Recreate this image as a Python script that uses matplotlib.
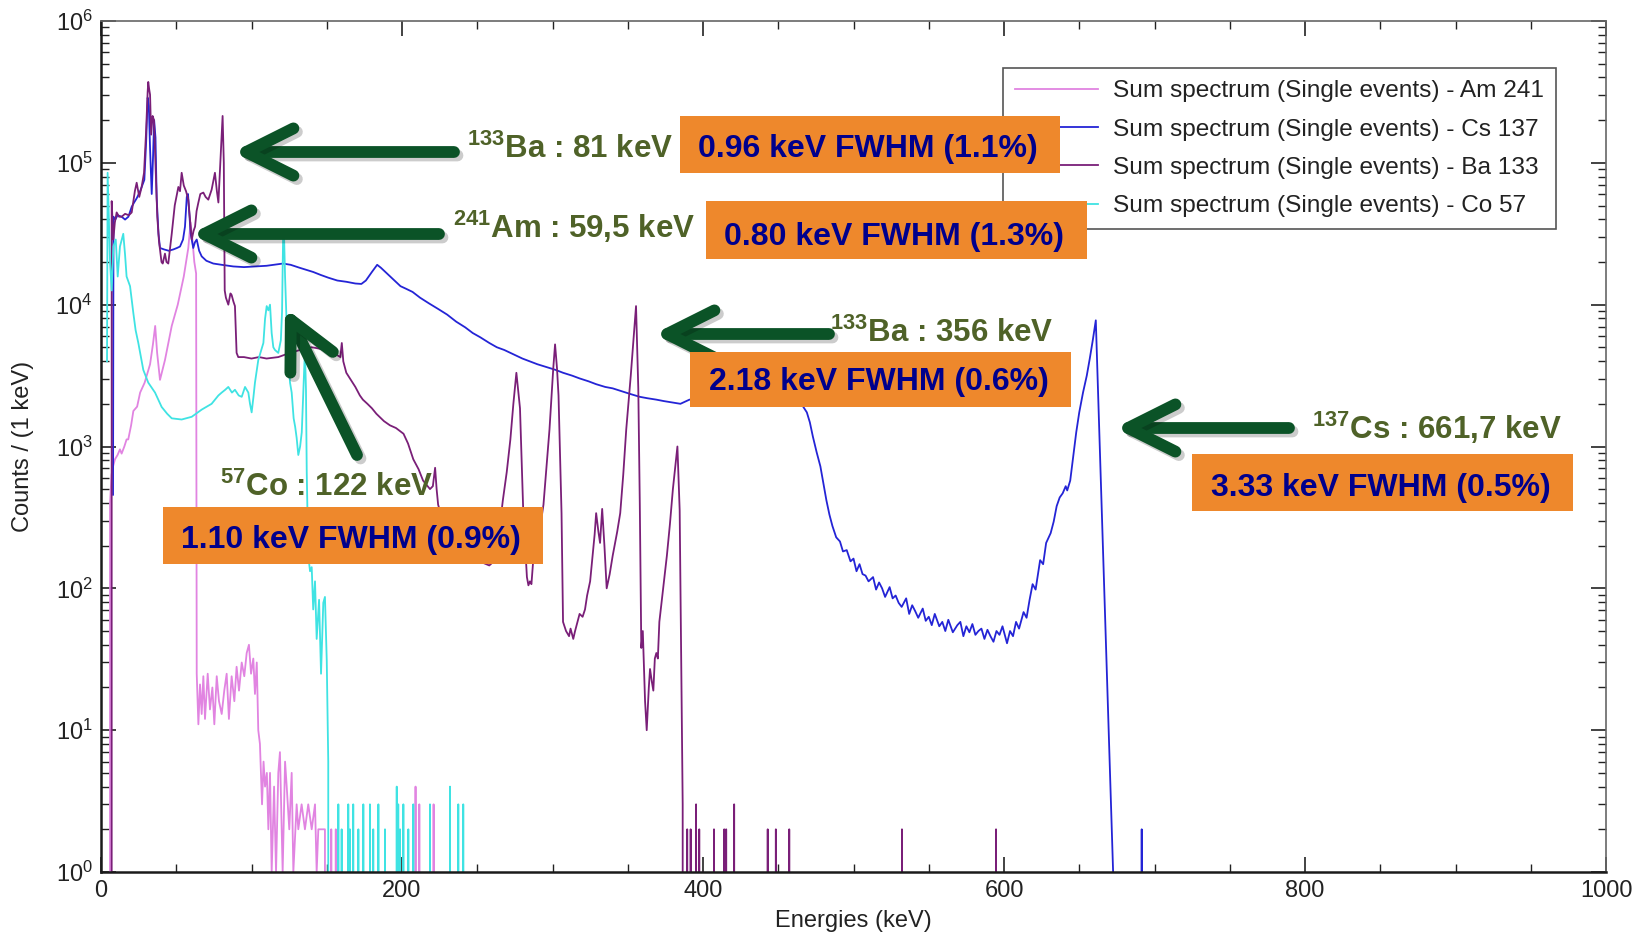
import numpy as np
import matplotlib
matplotlib.use('Agg')
import matplotlib.pyplot as plt
import matplotlib.ticker as tkr
import matplotlib.patheffects as pe
from matplotlib.patches import Rectangle
from matplotlib import font_manager

# spectra: energy (keV) and counts per keV
am241_energy = [5.0, 6.0, 7.0, 8.0, 9.3, 11.0, 12.6, 13.7, 15.5, 17.0, 18.1, 20.0, 21.5, 24.0, 26.0,
                29.0, 32.6, 34.5, 36.0, 37.3, 39.2, 42.5, 47.0, 51.0, 55.0, 58.0, 59.5, 60.8, 62.0,
                63.2, 63.6, 64.7, 65.8, 66.9, 68.0, 69.1, 70.9, 72.4, 74.0, 75.3, 76.9, 78.4, 80.2,
                81.9, 83.5, 85.0, 86.8, 88.6, 90.1, 91.7, 93.5, 95.2, 96.8, 98.3, 99.7, 101.2, 102.3,
                103.5, 104.5, 105.6, 107.0, 108.0, 109.0, 110.2, 111.2, 112.3, 113.4, 115.0, 116.3,
                117.8, 118.9, 120.7, 122.3, 123.4, 125.1, 126.7, 127.8, 130.0, 131.1, 133.3, 135.5,
                137.7, 140.0, 142.2, 143.3, 144.4, 146.6, 148.8, 150.0]
am241_counts = [0, 398, 631, 724, 813, 871, 955, 891, 1000, 1122, 1122, 1410, 1780, 1910, 2400,
                2820, 3800, 5250, 7080, 4570, 2950, 4070, 7080, 10000, 15800, 25100, 38000, 28200, 20000,
                16600, 25, 11, 21, 13, 24, 12, 25, 14, 20, 11, 24, 16, 13,
                19, 25, 12, 24, 16, 28, 19, 30, 24, 35, 40, 25, 32, 18,
                30, 10, 8, 3, 6, 4, 5, 2, 5, 1, 4, 1,
                5, 7, 1, 6, 4, 2, 5, 1, 3, 2, 3, 2,
                3, 2, 3, 1, 2, 2, 2, 0]
am241_spikes = [(153, 2), (156, 2), (160, 1), (209, 4), (211.5, 3), (221, 3)]

cs137_energy = [8.0, 8.3, 9.5, 11.0, 13.7, 16.0, 18.2, 20.4, 22.0, 23.7, 26.0, 28.8, 30.0, 31.0, 31.8,
                32.6, 33.7, 34.6, 35.3, 36.2, 37.0, 38.2, 39.2, 42, 45, 48, 50.5, 52.5, 54.5, 55.8,
                57.0, 57.8, 58.8, 59.6, 61.3, 62.4, 63.6, 65.2, 66.9, 70, 74.6, 80.2, 87.9, 95, 102,
                110, 115, 121, 126, 132, 141, 146, 151, 157, 163, 169, 173, 176, 180, 183.5, 186, 190,
                195, 199, 203, 207, 212, 218, 224, 230, 236, 242, 247, 252, 258, 263, 268, 274, 280,
                285, 290, 296, 302, 307, 313, 318, 324, 329, 335, 340, 346, 352, 358, 363, 369, 374,
                380, 385, 391, 397, 403, 410, 418, 425, 433, 440, 448, 455, 461, 466, 469, 471, 473,
                475.5, 478, 480, 482, 484, 486, 488.5, 491, 493, 495.5, 498, 500, 502, 504, 506, 508,
                510, 513, 515, 517, 519, 521, 524, 526, 528, 530, 532, 535, 537, 539, 541, 543, 546,
                548, 550, 552, 554, 557, 559, 561, 563, 566, 569, 571, 573, 575, 577, 579, 581, 583,
                585, 587, 589, 591, 593, 595, 597, 599, 602, 604, 606, 608, 610, 613, 615, 617, 619,
                621, 624, 626, 628, 631, 633, 635, 637, 639, 641, 642, 644, 646, 648, 650, 652.5, 655,
                657, 659, 661, 672.5, 673]
cs137_counts = [457, 41700, 39800, 42700, 41700, 39800, 41700, 49000, 52500, 56200, 63100, 75900,
                141000, 288000, 251000, 126000, 60300, 112000, 200000, 151000, 56200, 31600, 25100,
                24500, 24000, 24500, 25100, 25700, 28800, 35500, 57500, 60300, 41700, 31600, 25100,
                27500, 28800, 24000, 21900, 20400, 19500, 19100, 18600, 18400, 18600, 18800, 19100,
                19500, 19100, 18200, 17000, 16200, 15500, 14800, 14500, 14100, 14000, 14800, 17000,
                19100, 18200, 16600, 14800, 13500, 12900, 12300, 11200, 10200, 9330, 8510, 7590, 6920,
                6310, 5890, 5370, 5010, 4790, 4470, 4170, 3980, 3800, 3630, 3470, 3310, 3160, 3020,
                2880, 2750, 2630, 2570, 2450, 2340, 2240, 2190, 2140, 2090, 2040, 2000, 2140, 2140,
                2140, 2090, 2090, 2090, 2040, 2040, 2040, 2000, 2000, 1950, 1740, 1480, 1175,
                912, 724, 550, 417, 331, 275, 229, 214, 182, 186, 155, 162, 132, 148, 126, 123,
                112, 120, 98, 110, 100, 87, 102, 85, 89, 79, 74, 85, 66, 76, 69, 62, 72,
                59, 63, 55, 66, 54, 58, 50, 60, 49, 55, 58, 46, 54, 49, 56, 47, 50,
                52, 44, 51, 46, 42, 50, 47, 54, 41, 50, 46, 58, 52, 68, 62, 83, 107,
                98, 158, 148, 209, 245, 295, 380, 437, 468, 525, 490, 575, 850, 1260, 1740, 2400, 3160,
                4170, 5620, 7760, 1, 0]
cs137_spikes = [(691.5, 2)]

ba133_energy = [6.8, 7.1, 8.2, 9.2, 10.4, 12.0, 13.7, 16.0, 18.5, 20.4, 22.5, 23.7, 25.4, 27.0, 28.6,
                29.9, 31.0, 31.4, 32.0, 32.6, 33.3, 34.3, 35.2, 36.0, 37.4, 38.5, 39.2, 40.2, 41.0,
                42.5, 43.5, 44.7, 47.0, 49.0, 51.4, 52.5, 53.6, 55.0, 56.5, 58.0, 60.3, 61.5, 62.5,
                63.5, 64.7, 66.0, 68.0, 69.5, 71.3, 73.5, 75.7, 77.0, 78.0, 79.5, 80.8, 81.6, 82.2,
                83.0, 84.6, 86.0, 86.8, 88.0, 89.0, 90.1, 91.2, 95, 100, 105, 110, 117.8, 123, 129,
                135, 140, 145, 151, 156, 159, 160, 161, 163, 166, 169, 172, 174, 177, 180, 183, 185,
                188, 192, 196, 201, 204, 207.5, 211, 214, 218.6, 220.5, 222, 223, 224, 227, 232, 240,
                248, 254, 258, 261, 264, 267, 269.6, 272, 274, 276, 278.4, 280.6, 283, 284, 285, 286,
                287, 290, 294, 298, 300.5, 301.7, 303, 304, 306, 307, 309, 311, 312, 313.8, 315, 318,
                320, 321.6, 323, 325, 328, 329, 330.5, 331.6, 333, 334.5, 336, 338, 340, 343, 345,
                347, 349, 352, 354.5, 355.5, 357, 358, 359, 360, 361.5, 362.6, 364, 364.8, 366, 367,
                368, 369, 370, 371, 373, 376, 378, 380, 383, 384.5, 386.5, 387.5]
ba133_counts = [0, 53700, 28800, 38000, 44700, 41700, 41700, 43700, 42700, 44700, 63100, 72400, 57500,
                67600, 85100, 162000, 316000, 372000, 331000, 302000, 158000, 214000, 200000, 112000,
                41700, 28200, 24500, 20000, 19500, 22900, 20000, 19500, 31600, 50100, 67600, 63100,
                85100, 69200, 63100, 55000, 28800, 33100, 35500, 45700, 52500, 60300, 61700, 57500,
                55000, 64600, 85100, 63100, 52500, 112000, 214000, 100000, 12600, 11200, 10000, 12000,
                11700, 10500, 9770, 4570, 4270, 4270, 4170, 4270, 4170, 4270, 4470, 4680, 4900, 5010,
                4900, 4680, 4470, 4270, 5370, 3980, 3310, 2950, 2630, 2290, 2140, 2000, 1860, 1700,
                1620, 1510, 1410, 1350, 1230, 1050, 813, 692, 575, 501, 525, 708, 501, 389, 302, 251,
                200, 166, 151, 145, 155, 224, 417, 661, 1120, 2000, 3310, 1860, 339, 120, 105, 112,
                107, 148, 200, 389, 1320, 3550, 5250, 3550, 2290, 339, 58, 50, 46, 52, 44, 50, 66,
                63, 71, 89, 112, 240, 339, 251, 209, 363, 200, 100, 126, 170, 251, 339,
                631, 1320, 3160, 7080, 9770, 2570, 398, 38, 50, 16, 10, 20, 27, 22, 19,
                32, 35, 32, 58, 89, 170, 282, 501, 1000, 355, 3, 0]
ba133_spikes = [(389.5, 2), (391.8, 2), (395.4, 3), (397.5, 2), (399.8, 1), (407.3, 2), (414.1, 2),
                (415.4, 2), (420.7, 3), (443.0, 2), (448.4, 2), (457.3, 2), (532.2, 2), (594.7, 2)]

co57_energy = [4.0, 4.4, 5.0, 6.0, 7.1, 8.2, 9.8, 11.1, 12.6, 14.8, 16.0, 17.0, 19.3, 21.5, 23.0, 24.8,
               28.1, 31.4, 35.9, 40.3, 44.0, 47.0, 53.6, 60.3, 66.9, 73.5, 78.0, 80.2, 82.5, 84.6,
               87.0, 89.0, 91.5, 93.5, 95.7, 97.9, 99.0, 100.1, 101.3, 102.3, 104.5, 106.5, 107.9,
               109.0, 110.1, 111.2, 112.3, 113.4, 114.5, 115.6, 117.8, 119.5, 120.3, 121.0, 121.6,
               122.3, 123.4, 124.5, 125.6, 126.7, 128.0, 129.0, 130.0, 131.1, 132.3, 133.4, 134.4,
               135.5, 136.2, 136.7, 137.7, 138.9, 140.0, 141.0, 142.2, 143.3, 144.9, 146.2, 147.7,
               148.8, 150.0, 151.0, 151.8]
co57_counts = [3980, 85100, 50100, 20000, 12600, 25700, 28800, 15800, 25700, 31600, 22400, 15800, 13500,
               8710, 6610, 5370, 3470, 2820, 2400, 1900, 1700, 1580, 1550, 1620, 1820, 2000, 2290,
               2400, 2510, 2630, 2400, 2510, 2290, 2240, 2630, 2400, 2000, 1740, 2240, 2820, 4070,
               4790, 5370, 7940, 9770, 9120, 10000, 6310, 5010, 4790, 4570, 5620, 8910, 30200, 31600,
               15800, 7080, 4070, 2820, 2400, 1580, 1380, 1150, 871, 1000, 1260, 2400, 4790, 2510,
               661, 170, 132, 141, 71, 112, 44, 83, 25, 79, 87, 31, 6, 0]
co57_spikes = [(157.7, 3), (159.9, 2), (164.3, 3), (165.4, 2), (167.6, 3), (171.0, 2), (174.3, 3),
               (178.7, 3), (180.9, 2), (184.3, 3), (188.7, 2), (196.5, 4), (197.5, 3), (198.7, 2),
               (200.9, 3), (204.2, 2), (207.5, 3), (218.6, 3), (231.9, 4), (237.4, 3), (240.7, 3)]

series_labels = ['Sum spectrum (Single events) - Am 241', 'Sum spectrum (Single events) - Cs 137',
                 'Sum spectrum (Single events) - Ba 133', 'Sum spectrum (Single events) - Co 57']

peak_labels = [r'$^{\mathbf{133}}$Ba : 81 keV', r'$^{\mathbf{241}}$Am : 59,5 keV', r'$^{\mathbf{57}}$Co : 122 keV',
               r'$^{\mathbf{133}}$Ba : 356 keV', r'$^{\mathbf{137}}$Cs : 661,7 keV']
fwhm_labels = ['0.96 keV FWHM (1.1%)', '0.80 keV FWHM (1.3%)', '1.10 keV FWHM (0.9%)',
               '2.18 keV FWHM (0.6%)', '3.33 keV FWHM (0.5%)']

W, H = 1646, 934


def with_spikes(energy, counts, spikes):
    e, c = list(energy), list(counts)
    for se, sc in spikes:
        e += [se - 0.4, se, se + 0.4]
        c += [0, sc, 0]
    return e, c


def has_font(name):
    try:
        font_manager.findfont(font_manager.FontProperties(family=name, weight='bold'), fallback_to_default=False)
        return True
    except ValueError:
        return False


def fig_xy(x, y):
    # pixel position measured from the top-left corner -> figure fraction
    return x / W, 1 - y / H


def plot():
    narrow = has_font('Liberation Sans Narrow')
    ann_font = 'Liberation Sans Narrow' if narrow else 'Liberation Sans'
    green_size = 27 if narrow else 22.5
    box_size = 27.5 if narrow else 23

    plt.rcParams['font.family'] = ['Liberation Sans', 'DejaVu Sans']
    plt.rcParams['mathtext.fontset'] = 'custom'
    plt.rcParams['mathtext.rm'] = 'Liberation Sans'
    plt.rcParams['mathtext.bf'] = ann_font + ':bold'

    fig = plt.figure(figsize=(W / 100, H / 100), dpi=100)
    ax = fig.add_axes([101 / W, 62 / H, 1505 / W, 851 / H])

    colors = ['#e184e1', '#2424d6', '#7a1f78', '#3fe3e3']
    spectra = [(am241_energy, am241_counts, am241_spikes), (cs137_energy, cs137_counts, cs137_spikes),
               (ba133_energy, ba133_counts, ba133_spikes), (co57_energy, co57_counts, co57_spikes)]
    for (e, c, sp), col, lab in zip(spectra, colors, series_labels):
        x, y = with_spikes(e, c, sp)
        ax.plot(x, y, color=col, lw=1.3, label=lab)

    ax.set_yscale('log')
    ax.set_xlim(0, 1000)
    ax.set_ylim(1, 1e6)
    ax.xaxis.set_major_locator(tkr.MultipleLocator(200))
    ax.xaxis.set_minor_locator(tkr.MultipleLocator(50))
    ax.yaxis.set_major_locator(tkr.FixedLocator([1, 10, 100, 1e3, 1e4, 1e5, 1e6]))
    ax.yaxis.set_minor_locator(tkr.LogLocator(base=10, subs=range(2, 10), numticks=20))
    ax.yaxis.set_major_formatter(tkr.FuncFormatter(lambda v, pos: r'$\mathregular{10^{%d}}$' % round(np.log10(v))))
    ax.yaxis.set_minor_formatter(tkr.NullFormatter())
    ax.xaxis.set_major_formatter(tkr.FuncFormatter(lambda v, pos: '%d' % v))

    ax.tick_params(which='both', direction='in', top=True, right=True, colors='#222222')
    ax.tick_params(which='major', length=11, width=1.2, labelsize=17)
    ax.tick_params(axis='x', which='major', pad=6)
    ax.tick_params(axis='y', which='major', pad=6)
    ax.tick_params(which='minor', length=6, width=1.0)
    for s in ['left', 'bottom']:
        ax.spines[s].set_color('#1a1a1a')
        ax.spines[s].set_linewidth(1.8)
    for s in ['top', 'right']:
        ax.spines[s].set_color('#666666')
        ax.spines[s].set_linewidth(1.2)

    ax.set_xlabel('Energies (keV)', fontsize=17, color='#222222', va='center')
    ax.xaxis.set_label_coords(0.5, -0.0576)
    ax.set_ylabel('Counts / (1 keV)', fontsize=17, color='#222222', va='center')
    ax.yaxis.set_label_coords(-0.052, 0.5)

    leg = ax.legend(loc='upper left', bbox_to_anchor=fig_xy(1003, 68), bbox_transform=fig.transFigure,
                    borderaxespad=0, fontsize=17.6, handlelength=3.4, handletextpad=0.58,
                    labelspacing=0.66, borderpad=0.5, fancybox=False, framealpha=1, edgecolor='#555555')
    leg.get_frame().set_linewidth(1.2)
    for t in leg.get_texts():
        t.set_color('#222222')

    # arrows: tip, tail in pixels from the top-left corner
    arrows = [((233, 152), (454, 152)), ((191, 234), (439, 234)), ((285, 308), (357, 455)),
              ((654, 334), (829, 334)), ((1115, 428), (1289, 428))]
    for tip, tail in arrows:
        ax.annotate('', xy=(tip[0], H - tip[1]), xycoords='figure pixels',
                    xytext=(tail[0], H - tail[1]), textcoords='figure pixels',
                    arrowprops=dict(arrowstyle='->,head_length=34,head_width=17', mutation_scale=1,
                                    lw=8.5, color='#0b5327', shrinkA=0, shrinkB=0,
                                    capstyle='round', joinstyle='round',
                                    path_effects=[pe.SimpleLineShadow(offset=(2.5, -2.5), shadow_color='k', alpha=0.2),
                                                  pe.Normal()]),
                    annotation_clip=False)

    label_pos = [(467, 158), (453, 238), (220, 496), (830, 342), (1312, 439)]
    for s, (x, y) in zip(peak_labels, label_pos):
        fig.text(*fig_xy(x, y), s, ha='left', va='baseline', color='#4f6228', fontsize=green_size,
                 fontweight='bold', family=ann_font, zorder=6)

    boxes = [(680, 116, 1060, 173, 157), (706, 201, 1087, 259, 245), (163, 507, 543, 564, 548),
             (690, 352, 1071, 407, 390), (1192, 454, 1573, 511, 496)]
    for s, (x0, y0, x1, y1, yb) in zip(fwhm_labels, boxes):
        fig.add_artist(Rectangle(fig_xy(x0, y1), (x1 - x0) / W, (y1 - y0) / H, transform=fig.transFigure,
                                 facecolor='#ee882c', edgecolor='none', zorder=5))
        fig.text(*fig_xy((x0 + x1) / 2 - 2, yb), s, ha='center', va='baseline', color='#00008c',
                 fontsize=box_size, fontweight='bold', family=ann_font, zorder=6)

    fig.savefig('out.png', dpi=100)


if __name__ == '__main__':
    plot()
